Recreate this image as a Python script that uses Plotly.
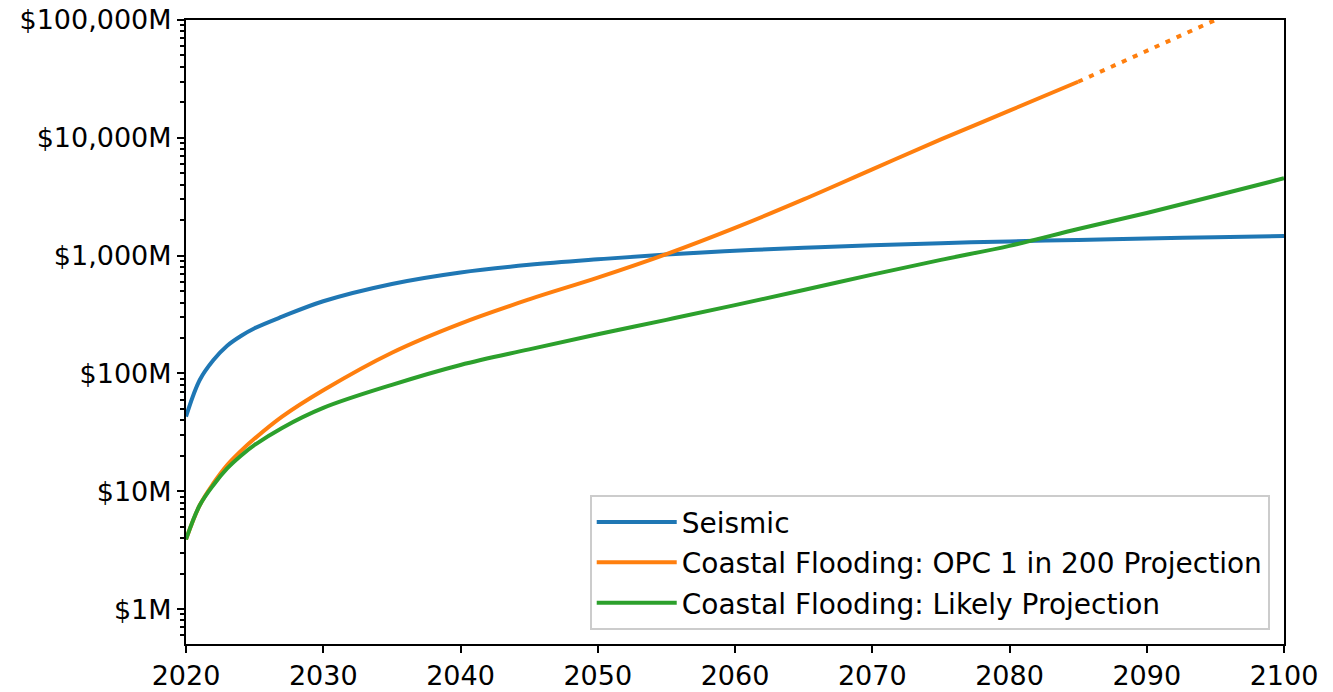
import plotly.graph_objects as go
import math

# ---- data (values in $ millions) ----
years = [2020, 2021, 2022, 2023, 2024, 2025, 2027, 2030, 2035, 2040, 2045, 2050,
         2055, 2060, 2065, 2070, 2075, 2080, 2085, 2090, 2095, 2100]
seismic = [43, 88, 130, 172, 208, 242, 303, 410, 575, 720, 835, 930,
           1020, 1100, 1165, 1225, 1275, 1320, 1360, 1400, 1435, 1467]
likely = [3.9, 7.6, 11.3, 15.6, 20, 24.7, 34.5, 51, 80, 118, 160, 215,
          285, 380, 510, 690, 920, 1210, 1680, 2300, 3220, 4533]

opc_years = [2020, 2021, 2022, 2023, 2024, 2025, 2027, 2030, 2035, 2040, 2045,
             2050, 2055, 2060, 2065, 2070, 2075, 2080, 2085]
opc = [3.9, 7.6, 11.7, 16.7, 22, 28, 43, 72, 150, 265, 425,
       650, 1030, 1720, 3000, 5400, 9700, 17000, 29900]
opc_ext_years = [2085, 2090, 2095, 2100]
opc_ext = [29900, 55000, 100000, 180000]

y_tickvals = [1, 10, 100, 1000, 10000, 100000]
y_ticktext = ["$1M", "$10M", "$100M", "$1,000M", "$10,000M", "$100,000M"]
x_tickvals = [2020, 2030, 2040, 2050, 2060, 2070, 2080, 2090, 2100]

names = ["Seismic", "Coastal Flooding: OPC 1 in 200 Projection",
         "Coastal Flooding: Likely Projection"]
colors = ["#1f77b4", "#ff7f0e", "#2ca02c"]

FONT = "DejaVu Sans"
LW = 4
SM = 1.0

fig = go.Figure()
fig.add_trace(go.Scatter(x=years, y=seismic, mode="lines", name=names[0],
                         line=dict(color=colors[0], width=LW, shape="spline", smoothing=SM),
                         legendgroup="a"))
fig.add_trace(go.Scatter(x=opc_years, y=opc, mode="lines", name=names[1],
                         line=dict(color=colors[1], width=LW, shape="spline", smoothing=SM),
                         legendgroup="b"))
fig.add_trace(go.Scatter(x=years, y=likely, mode="lines", name=names[2],
                         line=dict(color=colors[2], width=LW, shape="spline", smoothing=SM),
                         legendgroup="c"))
fig.add_trace(go.Scatter(x=opc_ext_years, y=opc_ext, mode="lines", showlegend=False,
                         line=dict(color=colors[1], width=LW, dash="5px,7px")))

minor_vals = []
for d in range(-1, 5):
    for m in range(2, 10):
        minor_vals.append(m * 10 ** d)

fig.update_layout(
    width=1333, height=692,
    margin=dict(l=186, r=49, t=20, b=48),
    paper_bgcolor="white", plot_bgcolor="white",
    font=dict(family=FONT, size=27, color="black"),
    showlegend=True,
    legend=dict(x=0.987, y=0.022, xanchor="right", yanchor="bottom",
                bgcolor="white", bordercolor="#cccccc", borderwidth=2,
                font=dict(family=FONT, size=28, color="black"),
                itemwidth=80, tracegroupgap=1),
    xaxis=dict(range=[2020, 2100], tickmode="array", tickvals=x_tickvals,
               ticks="outside", ticklen=7, tickwidth=2, tickcolor="black",
               showline=True, linecolor="black", linewidth=2, mirror=True,
               showgrid=False, zeroline=False, automargin=False,
               ticklabeloverflow="allow",
               tickfont=dict(family=FONT, size=27, color="black")),
    yaxis=dict(type="log", range=[math.log10(0.505), 5], tickmode="array",
               tickvals=y_tickvals, ticktext=y_ticktext,
               ticks="outside", ticklen=7, tickwidth=2, tickcolor="black",
               showline=True, linecolor="black", linewidth=2, mirror=True,
               showgrid=False, zeroline=False, automargin=False,
               ticklabeloverflow="allow",
               minor=dict(tickmode="array", tickvals=minor_vals, ticks="outside",
                          ticklen=4, tickwidth=1.5, tickcolor="black", showgrid=False),
               tickfont=dict(family=FONT, size=27, color="black")),
)

fig.write_html("out.html", config={"displayModeBar": False},
               post_script="document.body.style.margin='0';document.body.style.overflow='hidden';")
